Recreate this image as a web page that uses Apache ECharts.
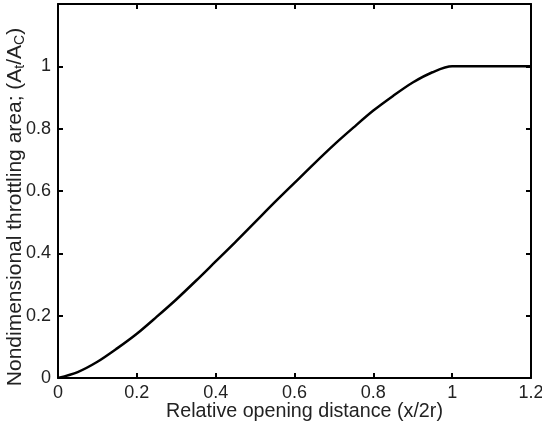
<!DOCTYPE html>
<html>
<head>
<meta charset="utf-8">
<script src="https://cdn.jsdelivr.net/npm/echarts@6/dist/echarts.min.js"></script>
<style>
  html, body { margin: 0; padding: 0; background: #fff; }
  #chart { width: 542px; height: 432px; }
</style>
</head>
<body>
<div id="chart"></div>
<script>
// values
var openingDistance = [0, 0.05, 0.1, 0.15, 0.2, 0.25, 0.3, 0.35, 0.4, 0.45, 0.5, 0.55, 0.6, 0.65, 0.7, 0.75, 0.8, 0.85, 0.9, 0.95, 1.0, 1.1, 1.2];
var throttlingArea = [0, 0.019, 0.052, 0.095, 0.142, 0.196, 0.252, 0.312, 0.374, 0.436, 0.5, 0.564, 0.626, 0.688, 0.748, 0.804, 0.858, 0.905, 0.948, 0.981, 1.0, 1.0, 1.0];
var xTicks = ['0', '0.2', '0.4', '0.6', '0.8', '1', '1.2'];
var yTicks = ['0', '0.2', '0.4', '0.6', '0.8', '1', ''];

var font = 'Liberation Sans, Arial, sans-serif';
var chart = echarts.init(document.getElementById('chart'));

var pts = openingDistance.map(function (x, i) { return [x, throttlingArea[i]]; });

var axLine = { show: true, onZero: false, lineStyle: { color: '#000', width: 2 } };
var axTick = { show: true, inside: true, length: 5, lineStyle: { color: '#000', width: 2 } };

chart.setOption({
  backgroundColor: '#ffffff',
  animation: false,
  grid: { left: 58, right: 11, top: 4, bottom: 54, outerBoundsMode: 'none', containLabel: false },
  xAxis: [{
    type: 'value', min: 0, max: 1.2, interval: 0.2,
    name: 'Relative opening distance (x/2r)',
    nameLocation: 'middle', nameGap: 24, nameMoveOverlap: false,
    nameTextStyle: { fontFamily: font, fontSize: 19.7, color: '#222', padding: [0, 0, 0, 20] },
    axisLine: axLine,
    axisTick: axTick,
    axisLabel: {
      fontFamily: font, fontSize: 18, color: '#222', margin: 6,
      formatter: function (v) { return xTicks[Math.round(v / 0.2)]; }
    },
    splitLine: { show: false }
  }, {
    type: 'value', min: 0, max: 1.2, interval: 0.2, position: 'top',
    axisLine: axLine,
    axisTick: axTick,
    axisLabel: { show: false },
    splitLine: { show: false }
  }],
  yAxis: [{
    type: 'value', min: 0, max: 1.2, interval: 0.2,
    name: '{n|Nondimensional throttling area; (A}{s|t}{n|/A}{s|C}{n|)}',
    nameLocation: 'middle', nameGap: 31, nameMoveOverlap: false,
    nameTextStyle: {
      padding: [0, 32, 0, 0],
      rich: {
        n: { fontFamily: font, fontSize: 21, color: '#222' },
        s: { fontFamily: font, fontSize: 14, color: '#222', verticalAlign: 'bottom', padding: [9, 0, 0, 0] }
      }
    },
    axisLine: axLine,
    axisTick: axTick,
    axisLabel: {
      fontFamily: font, fontSize: 18, color: '#222', margin: 7,
      formatter: function (v) { return yTicks[Math.round(v / 0.2)]; }
    },
    splitLine: { show: false }
  }, {
    type: 'value', min: 0, max: 1.2, interval: 0.2, position: 'right',
    axisLine: axLine,
    axisTick: axTick,
    axisLabel: { show: false },
    splitLine: { show: false }
  }],
  series: [{
    type: 'line',
    data: pts,
    smooth: 0.3,
    showSymbol: false,
    lineStyle: { color: '#000', width: 2.5 }
  }]
});
</script>
</body>
</html>
